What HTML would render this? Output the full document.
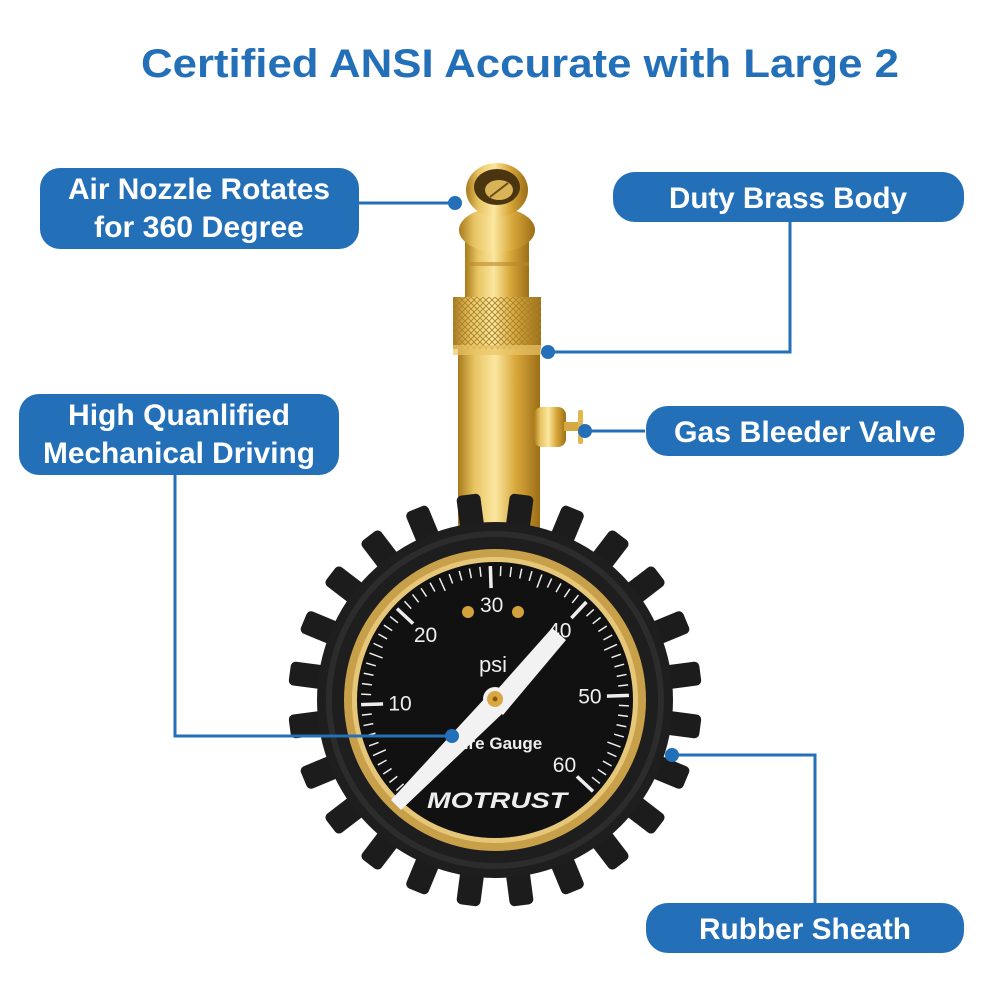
<!DOCTYPE html>
<html><head><meta charset="utf-8"><style>
html,body{margin:0;padding:0;background:#fff;width:1000px;height:1000px;overflow:hidden}
svg text{font-family:"Liberation Sans",Arial,sans-serif;font-weight:bold}
</style></head><body>
<svg id="s" width="1000" height="1000" viewBox="0 0 1000 1000" xmlns="http://www.w3.org/2000/svg">
<defs>
<linearGradient id="brass" x1="0" x2="1" y1="0" y2="0">
<stop offset="0" stop-color="#a97a1c"/><stop offset="0.2" stop-color="#e8c462"/><stop offset="0.45" stop-color="#fbe7a0"/><stop offset="0.7" stop-color="#d9a93c"/><stop offset="1" stop-color="#9c6e16"/>
</linearGradient>
<pattern id="knurl" width="6" height="6" patternUnits="userSpaceOnUse">
<path d="M0 0L6 6M6 0L0 6" stroke="#a7802a" stroke-width="0.8"/>
</pattern>
</defs>
<text x="520" y="77" font-size="40" fill="#2370b8" text-anchor="middle" textLength="758" lengthAdjust="spacingAndGlyphs">Certified ANSI Accurate with Large 2</text>

<!-- brass stem -->
<rect x="458" y="340" width="82" height="190" fill="url(#brass)"/>
<rect x="453" y="297" width="88" height="52" fill="url(#brass)"/>
<rect x="453" y="297" width="88" height="52" fill="url(#knurl)"/>
<rect x="453" y="345" width="88" height="10" fill="#e9c466" opacity="0.7"/>
<rect x="465" y="242" width="64" height="55" fill="url(#brass)"/>
<rect x="465" y="262" width="64" height="4" fill="#b8892a" opacity="0.6"/>
<ellipse cx="497" cy="230" rx="38" ry="22" fill="url(#brass)"/>
<ellipse cx="497" cy="190" rx="31" ry="27" fill="url(#brass)"/>
<ellipse cx="497" cy="187" rx="23" ry="18" fill="#4a3510"/>
<ellipse cx="499" cy="190" rx="14" ry="10" fill="#d9b357"/>
<line x1="490" y1="197" x2="508" y2="183" stroke="#6b4d14" stroke-width="2"/>
<!-- bleeder -->
<rect x="534" y="407" width="32" height="40" rx="8" fill="url(#brass)"/>
<rect x="564" y="422" width="18" height="9" fill="#d6a842"/>
<rect x="578" y="410" width="5" height="34" rx="2" fill="#e2b74e"/>

<g id="gauge"></g>

<!-- connectors -->
<g stroke="#2370b8" stroke-width="3" fill="none">
<path d="M358 203H455"/>
<path d="M790 222V352H547"/>
<path d="M175 473V736H452"/>
<path d="M645 431H585"/>
<path d="M815 903V755H672"/>
</g>
<g fill="#2370b8">
<circle cx="455" cy="203" r="7"/><circle cx="548" cy="352" r="7"/><circle cx="452" cy="736" r="7"/><circle cx="585" cy="431" r="7"/><circle cx="672" cy="755" r="7"/>
</g>
<!-- boxes -->
<g fill="#2370b8">
<rect x="40" y="168" width="319" height="81" rx="20"/>
<rect x="613" y="172" width="351" height="50" rx="22"/>
<rect x="19" y="394" width="320" height="81" rx="20"/>
<rect x="646" y="406" width="318" height="50" rx="22"/>
<rect x="646" y="903" width="318" height="50" rx="22"/>
</g>
<g fill="#fff" font-size="30" text-anchor="middle">
<text x="199" y="199" textLength="262" lengthAdjust="spacingAndGlyphs">Air Nozzle Rotates</text>
<text x="199" y="237" textLength="210" lengthAdjust="spacingAndGlyphs">for 360 Degree</text>
<text x="788" y="208" textLength="238" lengthAdjust="spacingAndGlyphs">Duty Brass Body</text>
<text x="179" y="425" textLength="222" lengthAdjust="spacingAndGlyphs">High Quanlified</text>
<text x="179" y="463" textLength="272" lengthAdjust="spacingAndGlyphs">Mechanical Driving</text>
<text x="805" y="442" textLength="262" lengthAdjust="spacingAndGlyphs">Gas Bleeder Valve</text>
<text x="805" y="939" textLength="212" lengthAdjust="spacingAndGlyphs">Rubber Sheath</text>
</g>
</svg>
<script>
var NS="http://www.w3.org/2000/svg",g=document.getElementById("gauge");
function el(t,a,p){var e=document.createElementNS(NS,t);for(var k in a)e.setAttribute(k,a[k]);(p||g).appendChild(e);return e;}
var cx=495,cy=700;
for(var i=0;i<24;i++){var a=i*15+7.5;el("rect",{x:cx-12,y:cy-207,width:24,height:56,rx:5,fill:"#1c1c1c",transform:"rotate("+a+" "+cx+" "+cy+")"});}
el("circle",{cx:cx,cy:cy,r:178,fill:"#1e1e1e"});
el("circle",{cx:cx,cy:cy,r:166,fill:"none",stroke:"#2c2c2c","stroke-width":6});
el("circle",{cx:cx,cy:cy,r:151,fill:"#c9a04a"});
el("circle",{cx:cx,cy:cy,r:143,fill:"#e6c77a"});
el("circle",{cx:cx,cy:cy,r:138,fill:"#111"});
for(var v=0;v<=60;v++){var ang=(-135+v*4.5-2)*Math.PI/180,s=Math.sin(ang),c=-Math.cos(ang);
 var r1=134,r2=v%10==0?112:(v%5==0?120:124);
 el("line",{x1:cx+r1*s,y1:cy+r1*c,x2:cx+r2*s,y2:cy+r2*c,stroke:"#eee","stroke-width":v%10==0?3.5:1.5});
 if(v%10==0&&v>0){var rr=95;var t=el("text",{x:cx+rr*s,y:cy+rr*c+7,"font-size":21,fill:"#eee","text-anchor":"middle"});t.textContent=v;t.style.fontWeight="normal";}}
el("circle",{cx:468,cy:612,r:6,fill:"#d4a23c"});el("circle",{cx:518,cy:612,r:6,fill:"#d4a23c"});el("circle",{cx:413,cy:787,r:5,fill:"#d4a23c"});
var t=el("text",{x:493,y:672,"font-size":22,fill:"#eee","text-anchor":"middle"});t.textContent="psi";t.style.fontWeight="normal";
t=el("text",{x:498,y:749,"font-size":17,fill:"#eee","text-anchor":"middle"});t.textContent="Tire Gauge";
t=el("text",{x:497,y:808,"font-size":22,fill:"#eee","text-anchor":"middle","font-style":"italic",textLength:"140",lengthAdjust:"spacingAndGlyphs"});t.textContent="MOTRUST";
el("polygon",{points:"391,800 486,697 503,713 401,810",fill:"#f2f2f2"});
el("polygon",{points:"488,700 552,628 566,640 503,715",fill:"#f2f2f2"});
el("circle",{cx:495,cy:699,r:12,fill:"#f2f2f2"});
el("circle",{cx:495,cy:699,r:8,fill:"#d9a842"});
el("circle",{cx:495,cy:699,r:2.5,fill:"#8a5a10"});
</script>
</body></html>
